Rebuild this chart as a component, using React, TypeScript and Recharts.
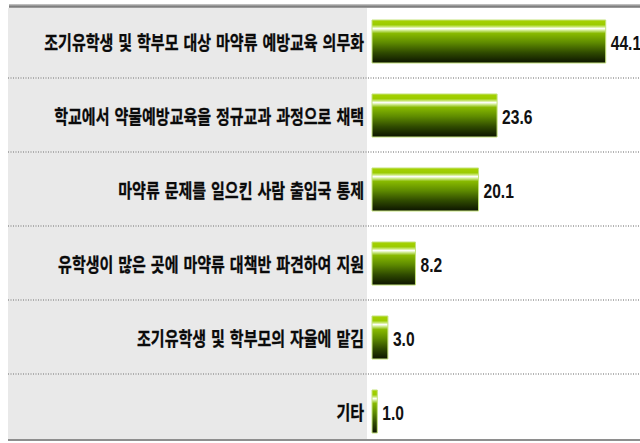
import React from 'react';
import { BarChart, Bar, XAxis, YAxis, CartesianGrid, LabelList } from 'recharts';

const CATEGORIES = [
  '조기유학생 및 학부모 대상 마약류 예방교육 의무화',
  '학교에서 약물예방교육을 정규교과 과정으로 채택',
  '마약류 문제를 일으킨 사람 출입국 통제',
  '유학생이 많은 곳에 마약류 대책반 파견하여 지원',
  '조기유학생 및 학부모의 자율에 맡김',
  '기타',
];
const VALUES = [44.1, 23.6, 20.1, 8.2, 3.0, 1.0];
const X_DOMAIN: [number, number] = [0, 50];

const data = CATEGORIES.map((name, i) => ({ name, value: VALUES[i] }));

const CategoryTick = (props: any) => {
  const { x, y, payload } = props;
  return (
    <text
      transform={`translate(${x},${y + 9}) scale(0.79,1)`}
      textAnchor="end"
      fontFamily="'Noto Sans CJK KR', sans-serif"
      fontWeight={700}
      fontSize={19}
      wordSpacing={2}
      fill="#0a0a0a"
      stroke="#0a0a0a"
      strokeWidth={0.3}
    >
      {payload.value}
    </text>
  );
};

const ValueLabel = (props: any) => {
  const { x, y, width, height, value } = props;
  return (
    <text
      transform={`translate(${x + width + 5},${y + height / 2 + 8.5}) scale(0.78,1)`}
      fontFamily="'Liberation Sans', Arial, sans-serif"
      fontWeight={700}
      fontSize={20}
      fill="#111"
    >
      {Number(value).toFixed(1)}
    </text>
  );
};

const Separator = (props: any) => {
  const { y1, y2 } = props;
  return <line x1={8} x2={640} y1={y1} y2={y2} stroke="#999" strokeWidth={1.5} strokeDasharray="1 1.5" />;
};

export default function App() {
  return (
    <div style={{ position: 'absolute', left: 0, top: 0, width: 640, height: 443, overflow: 'hidden', background: '#fff' }}>
      {/* label panel */}
      <div style={{ position: 'absolute', left: 8, top: 8, width: 359, height: 431, background: '#e9e9e9' }} />
      {/* top and bottom rules */}
      <div style={{ position: 'absolute', left: 9, top: 4, width: 631, height: 4, background: 'linear-gradient(#cfcfcf, #7c7c7c 60%, #a8a8a8)' }} />
      <div style={{ position: 'absolute', left: 8, top: 439, width: 632, height: 2, background: '#8e8e8e' }} />
      <div style={{ position: 'absolute', left: 0, top: 0 }}>
        <BarChart
          width={640}
          height={450}
          data={data}
          layout="vertical"
          margin={{ top: 4, right: 3, bottom: 2, left: 0 }}
          barSize={43}
        >
          <defs>
            <linearGradient id="barGreen" x1="0" y1="0" x2="0" y2="1">
              <stop offset="0%" stopColor="#a6d200" />
              <stop offset="11%" stopColor="#9bcb00" />
              <stop offset="16%" stopColor="#cbe978" />
              <stop offset="20%" stopColor="#ffffff" />
              <stop offset="24%" stopColor="#d2ec95" />
              <stop offset="31%" stopColor="#88ba00" />
              <stop offset="52%" stopColor="#5f8c00" />
              <stop offset="76%" stopColor="#2f4a00" />
              <stop offset="100%" stopColor="#0c1400" />
            </linearGradient>
          </defs>
          <CartesianGrid
            vertical={false}
            horizontal={(p: any) => <Separator key={p.key ?? p.index} {...p} />}
            horizontalCoordinatesGenerator={({ offset }: any) =>
              CATEGORIES.slice(1).map((_, i) => offset.top + (offset.height * (i + 1)) / CATEGORIES.length)
            }
          />
          <XAxis type="number" domain={X_DOMAIN} hide />
          <YAxis
            type="category"
            dataKey="name"
            width={372}
            axisLine={false}
            tickLine={false}
            tick={<CategoryTick />}
            interval={0}
          />
          <Bar dataKey="value" fill="url(#barGreen)" stroke="#c4e27a" strokeWidth={1} isAnimationActive={false}>
            <LabelList dataKey="value" content={<ValueLabel />} />
          </Bar>
        </BarChart>
      </div>
    </div>
  );
}
